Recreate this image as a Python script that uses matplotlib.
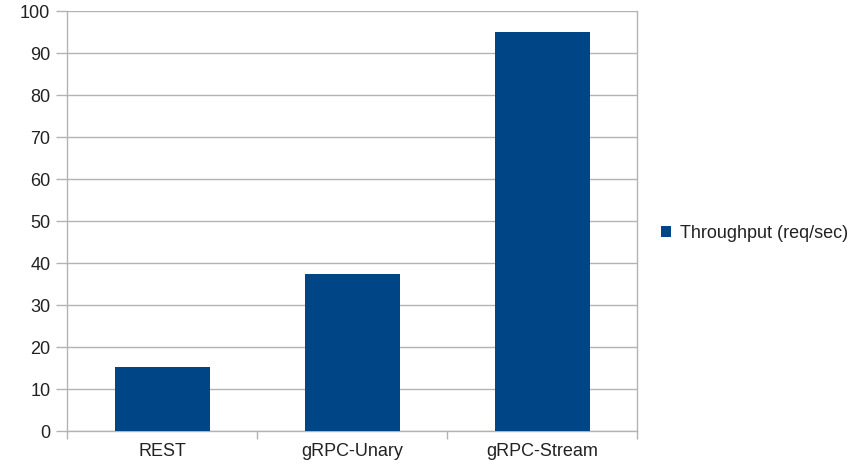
import matplotlib.pyplot as plt

plt.rcParams['font.family'] = ['Liberation Sans', 'DejaVu Sans']

categories = ['REST', 'gRPC-Unary', 'gRPC-Stream']
throughput = [15.3, 37.4, 95.1]
y_ticks = list(range(0, 101, 10))

bar_color = '#004586'
grid_color = '#b3b3b3'
text_color = '#222222'

fig = plt.figure(figsize=(8.67, 4.67), dpi=100)
ax = fig.add_axes([67 / 867, 36 / 467, 570 / 867, 420 / 467])

x = list(range(len(categories)))
ax.bar(x, throughput, width=0.5, color=bar_color, zorder=3,
       label='Throughput (req/sec)')

ax.set_xlim(-0.5, len(categories) - 0.5)
ax.set_ylim(0, 100)
ax.set_yticks(y_ticks)
ax.yaxis.grid(True, color=grid_color, linewidth=1, zorder=0)

# category labels centred, tick marks on the boundaries between categories
ax.set_xticks(x)
ax.set_xticklabels(categories)
ax.tick_params(axis='x', length=0, pad=9, labelsize=13, labelcolor=text_color)
ax.set_xticks([i + 0.5 for i in range(-1, len(categories))], minor=True)
ax.tick_params(axis='x', which='minor', length=6, color=grid_color, width=1)
ax.tick_params(axis='y', length=8, color=grid_color, width=1, pad=4,
               labelsize=13, labelcolor=text_color)

for side in ['left', 'right', 'bottom']:
    ax.spines[side].set_color(grid_color)
    ax.spines[side].set_linewidth(1)
ax.spines['top'].set_visible(False)

leg = fig.legend(loc='center left', bbox_to_anchor=(645 / 867, 1 - 233 / 467),
                 frameon=False, fontsize=13, handlelength=0.55,
                 handleheight=0.55, handletextpad=0.5)
for t in leg.get_texts():
    t.set_color(text_color)

fig.savefig('out.png', dpi=100)
